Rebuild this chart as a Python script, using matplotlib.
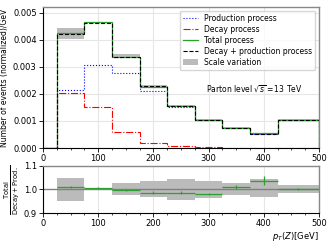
import numpy as np
import matplotlib
matplotlib.use("Agg")
import matplotlib.pyplot as plt
from matplotlib.patches import Patch
from matplotlib.lines import Line2D
from matplotlib.ticker import MultipleLocator

# pT(Z) bin edges (GeV)
edges = [0, 25, 75, 125, 175, 225, 275, 325, 375, 425, 500]

# normalized distributions, 1/GeV
production = [0.0, 2.14e-3, 3.05e-3, 2.78e-3, 2.11e-3, 1.52e-3, 1.03e-3, 0.73e-3, 0.52e-3, 1.04e-3]
decay = [0.0, 2.05e-3, 1.52e-3, 0.61e-3, 0.19e-3, 0.06e-3, 0.03e-3, 0.01e-3, 0.01e-3, 0.01e-3]
total = [0.0, 4.25e-3, 4.64e-3, 3.36e-3, 2.27e-3, 1.55e-3, 1.04e-3, 0.75e-3, 0.55e-3, 1.05e-3]
combined = [0.0, 4.22e-3, 4.63e-3, 3.37e-3, 2.29e-3, 1.57e-3, 1.05e-3, 0.74e-3, 0.53e-3, 1.05e-3]
scale_up = [0.0, 4.44e-3, 4.66e-3, 3.46e-3, 2.33e-3, 1.59e-3, 1.07e-3, 0.76e-3, 0.55e-3, 1.07e-3]
scale_dn = [0.0, 4.03e-3, 4.60e-3, 3.37e-3, 2.26e-3, 1.54e-3, 1.03e-3, 0.72e-3, 0.51e-3, 1.03e-3]

# ratio total / (decay + production), bins from 25 GeV
ratio_edges = edges[1:]
ratio = [1.011, 1.005, 0.996, 0.987, 0.987, 0.981, 1.011, 1.038, 1.002]
ratio_err = [0.004, 0.004, 0.004, 0.006, 0.006, 0.006, 0.010, 0.018, 0.005]
ratio_up = [1.050, 1.008, 1.027, 1.035, 1.043, 1.038, 1.028, 1.043, 1.020]
ratio_dn = [0.950, 0.997, 0.975, 0.967, 0.957, 0.962, 0.975, 0.967, 0.985]

plt.rcParams["font.size"] = 6

fig = plt.figure(figsize=(3.32, 2.44), dpi=100)
ax = fig.add_axes([0.1295, 0.393, 0.8315, 0.578])
axr = fig.add_axes([0.1295, 0.127, 0.8315, 0.193])

grey = "#bbbbbb"

# main panel
ax.stairs(scale_up, edges, baseline=scale_dn, fill=True, color=grey, lw=0)
ax.stairs(production, edges, color="blue", ls=":", lw=0.8)
ax.stairs(decay, edges, color="red", ls="-.", lw=0.8)
ax.stairs(total, edges, color="#2ca02c", ls="-", lw=0.9)
ax.stairs(combined, edges, color="black", ls="--", lw=0.8)

ax.set_xlim(0, 500)
ax.set_ylim(0, 0.0052)
ax.set_yticks([0, 0.001, 0.002, 0.003, 0.004, 0.005])
ax.yaxis.set_major_formatter(matplotlib.ticker.FormatStrFormatter("%.3f"))
ax.xaxis.set_minor_locator(MultipleLocator(25))
ax.grid(True, color="#e6e6e6", lw=0.8)
ax.set_axisbelow(True)
ax.set_ylabel("Number of events (normalized)/GeV", fontsize=5.5, labelpad=3)

handles = [
    Line2D([], [], color="blue", ls=":", lw=0.8),
    Line2D([], [], color="red", ls="-.", lw=0.8),
    Line2D([], [], color="#2ca02c", ls="-", lw=0.9),
    Line2D([], [], color="black", ls="--", lw=0.8),
    Patch(color=grey, lw=0),
]
labels = ["Production process", "Decay process", "Total process",
          "Decay + production process", "Scale variation"]
ax.legend(handles, labels, loc="upper right", fontsize=5.5, handlelength=2,
          labelspacing=0.25, borderpad=0.4, framealpha=0.8)
ax.text(470, 0.0022, r"Parton level $\sqrt{s} = 13$ TeV", fontsize=5.5,
        ha="right", va="center")

# ratio panel
axr.stairs(ratio_up, ratio_edges, baseline=ratio_dn, fill=True, color=grey, lw=0)
axr.axhline(1.0, color="grey", lw=1)
centers = [(a + b) / 2 for a, b in zip(ratio_edges[:-1], ratio_edges[1:])]
halfw = [(b - a) / 2 for a, b in zip(ratio_edges[:-1], ratio_edges[1:])]
axr.errorbar(centers, ratio, xerr=halfw, yerr=ratio_err, fmt="none",
             ecolor="#2ca02c", elinewidth=0.9)
axr.set_xlim(0, 500)
axr.set_ylim(0.9, 1.1)
axr.set_yticks([0.9, 1.0, 1.1])
axr.xaxis.set_minor_locator(MultipleLocator(25))
axr.grid(True, axis="x", color="#e6e6e6", lw=0.8)
axr.set_axisbelow(True)
axr.set_ylabel(r"$\frac{\rm Total}{\rm Decay+Prod.}$", fontsize=7, labelpad=2)
axr.set_xlabel(r"$p_T(Z)$[GeV]", fontsize=6, loc="right", labelpad=1)

for a in (ax, axr):
    for s in ("top", "right"):
        a.spines[s].set_color("#888888")
        a.spines[s].set_linewidth(1.0)
    a.tick_params(length=3, width=0.6, pad=1.5)
    a.tick_params(which="minor", length=1.5, width=0.5)

fig.savefig("out.png", dpi=100)
